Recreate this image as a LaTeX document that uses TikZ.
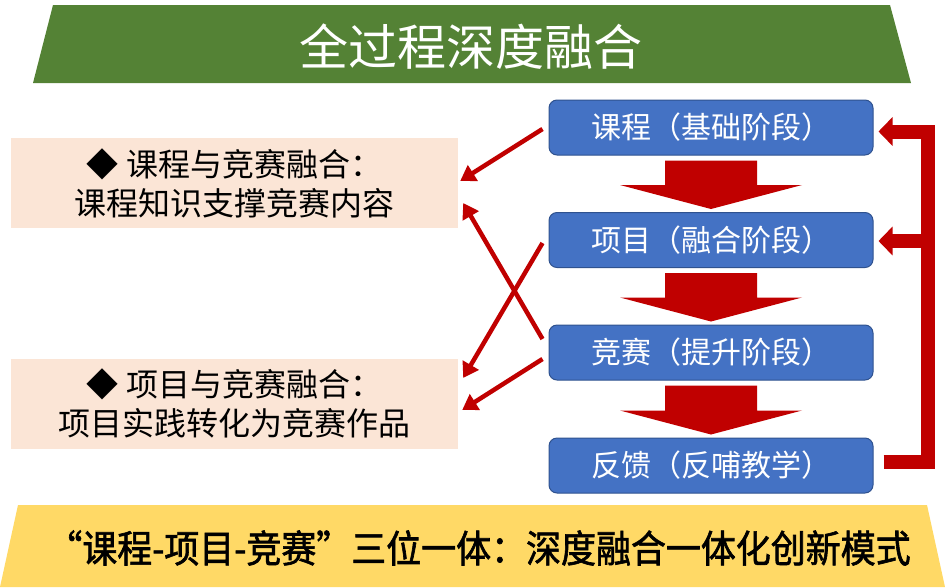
\documentclass[tikz,border=0pt]{standalone}
\usepackage{fontspec}
\setmainfont{Noto Sans CJK SC}
\newfontfamily\cjkbold[FakeBold=1.6,FakeStretch=0.92]{Noto Sans CJK SC}
\usetikzlibrary{arrows.meta,calc}
\definecolor{bannergreen}{HTML}{548235}
\definecolor{banneryellow}{HTML}{FFD966}
\definecolor{notepink}{HTML}{FBE5D6}
\definecolor{stageblue}{HTML}{4472C4}
\definecolor{blueborder}{HTML}{2F528F}
\definecolor{arrowred}{HTML}{C00000}
\tikzset{
  stagebox/.style={draw=blueborder, fill=stageblue, rounded corners=8pt,
    minimum width=324pt, minimum height=55pt, text=white, inner sep=0pt,
    line width=1pt, font=\fontsize{30}{36}\selectfont},
  notebox/.style={fill=notepink, minimum width=447pt, minimum height=90pt,
    align=center, inner sep=0pt, font=\fontsize{32}{39}\selectfont},
  thinarrow/.style={draw=arrowred, line width=4.5pt,
    -{Triangle[length=15pt,width=18pt]}},
  fbline/.style={draw=arrowred, line width=14pt, line join=miter},
  fbarrow/.style={fbline, -{Triangle[length=14pt,width=28pt]}},
}
\begin{document}
\begin{tikzpicture}[x=1pt,y=-1pt]
\useasboundingbox (0,0) rectangle (945,587);
% top banner
\fill[bannergreen] (53,5) -- (890,5) -- (911,83) -- (33,83) -- cycle;
\node[text=white, font=\fontsize{49}{56}\selectfont] (title) at (471,47) {全过程深度融合};
% bottom banner
\fill[banneryellow] (18,505) -- (927,505) -- (945,587) -- (0,587) -- cycle;
\node[font=\cjkbold\fontsize{38}{44}\selectfont] (motto) at (479,548) {“课程-项目-竞赛”三位一体：深度融合一体化创新模式};
% stage boxes
\node[stagebox] (b1) at (711,127.5) {课程（基础阶段）};
\node[stagebox] (b2) at (711,240) {项目（融合阶段）};
\node[stagebox] (b3) at (711,352.5) {竞赛（提升阶段）};
\node[stagebox] (b4) at (711,465.5) {反馈（反哺教学）};
% big down arrows
\foreach \u/\l in {b1/b2,b2/b3,b3/b4} {
  \fill[arrowred] ($(\u.south)+(-46,5)$) -- ($(\u.south)+(46,5)$)
    -- ($(\l.north)+(46,-27)$) -- ($(\l.north)+(91,-27)$)
    -- ($(\l.north)+(0,-3)$) -- ($(\l.north)+(-91,-27)$)
    -- ($(\l.north)+(-46,-27)$) -- cycle;
}
% note boxes
\node[notebox] (p1) at (234.5,183) {◆ 课程与竞赛融合：\\课程知识支撑竞赛内容};
\node[notebox] (p2) at (234.5,403.5) {◆ 项目与竞赛融合：\\项目实践转化为竞赛作品};
% thin arrows
\draw[thinarrow] ($(b1.west)+(-6,1.5)$) -- ($(p1.east)+(2,-2)$);
\draw[thinarrow] ($(b3.west)+(-6,-13.5)$) -- ($(p1.east)+(5,20)$);
\draw[thinarrow] ($(b2.west)+(-6,3)$) -- ($(p2.east)+(5,-25.5)$);
\draw[thinarrow] ($(b3.west)+(-6,6.5)$) -- ($(p2.east)+(4,6.5)$);
% feedback loop
\draw[fbarrow] ($(b4.east)+(10,-4)$) -- ($(b4.east)+(54,-4)$) |- ($(b1.east)+(5,4)$);
\draw[fbarrow] ($(b2.east)+(54,1)$) -- ($(b2.east)+(5,1)$);
\end{tikzpicture}
\end{document}
